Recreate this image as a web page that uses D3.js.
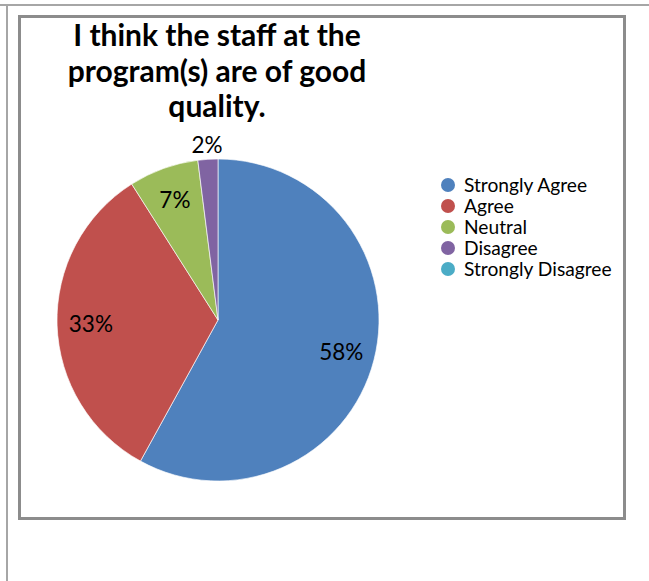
<!DOCTYPE html>
<html>
<head>
<meta charset="utf-8">
<script src="https://cdn.jsdelivr.net/npm/d3@7/dist/d3.min.js"></script>
<style>
  html, body { margin: 0; padding: 0; background: #fff; }
  svg { display: block; }
</style>
</head>
<body>
<svg id="chart" width="649" height="581"></svg>
<script>
// Survey responses: share of respondents per answer (percent)
const categories = ["Strongly Agree", "Agree", "Neutral", "Disagree", "Strongly Disagree"];
const values = [58, 33, 7, 2, 0];
const colors = ["#4F81BD", "#C0504D", "#9BBB59", "#8064A2", "#4BACC6"];
const titleLines = ["I think the staff at the", "program(s) are of good", "quality."];

const svg = d3.select("#chart");
const font = "Lato, 'Open Sans', sans-serif";

// page frame lines
svg.append("line").attr("x1", 0).attr("x2", 649).attr("y1", 5).attr("y2", 5)
  .attr("stroke", "#a6a6a6").attr("stroke-width", 2);
svg.append("line").attr("x1", 7).attr("x2", 7).attr("y1", 4).attr("y2", 581)
  .attr("stroke", "#a6a6a6").attr("stroke-width", 2);

// chart area border
svg.append("rect").attr("x", 19.5).attr("y", 16.5).attr("width", 605).attr("height", 502)
  .attr("fill", "#fff").attr("stroke", "#8c8c8c").attr("stroke-width", 3);

// title
const title = svg.append("text")
  .attr("x", 217).attr("y", 46)
  .attr("text-anchor", "middle")
  .attr("font-family", font).attr("font-weight", 700).attr("font-size", 30)
  .attr("fill", "#000");
title.selectAll("tspan").data(titleLines).join("tspan")
  .attr("x", 217).attr("dy", (d, i) => i === 0 ? 0 : 35.5)
  .text(d => d);

// pie
const cx = 218, cy = 320, r = 161;
const pie = d3.pie().sort(null).value(d => d.value);
const data = categories.map((c, i) => ({ name: c, value: values[i], color: colors[i] }));
const arcs = pie(data);
const arc = d3.arc().innerRadius(0).outerRadius(r);

const g = svg.append("g").attr("transform", `translate(${cx},${cy})`);
g.selectAll("path").data(arcs.filter(a => a.data.value > 0)).join("path")
  .attr("d", arc)
  .attr("fill", d => d.data.color)
  .attr("stroke", "#ffffff").attr("stroke-width", 0.8).attr("stroke-opacity", 0.8);

// data labels: inside for large slices, outside for the smallest
const inner = d3.arc().innerRadius(r * 0.79).outerRadius(r * 0.79);
const outer = d3.arc().innerRadius(r * 1.09).outerRadius(r * 1.09);
const total = d3.sum(values);
g.selectAll("text.lbl").data(arcs.filter(a => a.data.value > 0)).join("text")
  .attr("class", "lbl")
  .attr("transform", d => {
    const p = (d.data.value / total < 0.05 ? outer : inner).centroid(d);
    return `translate(${p[0]},${p[1]})`;
  })
  .attr("text-anchor", "middle")
  .attr("dy", "0.36em")
  .attr("font-family", font).attr("font-size", 22.5).attr("fill", "#000")
  .text(d => d.data.value + "%");

// legend
const legend = svg.append("g").attr("transform", "translate(448,185)");
const rows = legend.selectAll("g").data(data).join("g")
  .attr("transform", (d, i) => `translate(0,${i * 21})`);
rows.append("circle").attr("r", 7).attr("fill", d => d.color);
rows.append("text").attr("x", 16).attr("y", 6.5)
  .attr("font-family", font).attr("font-size", 19.2).attr("fill", "#000")
  .text(d => d.name);
</script>
</body>
</html>
